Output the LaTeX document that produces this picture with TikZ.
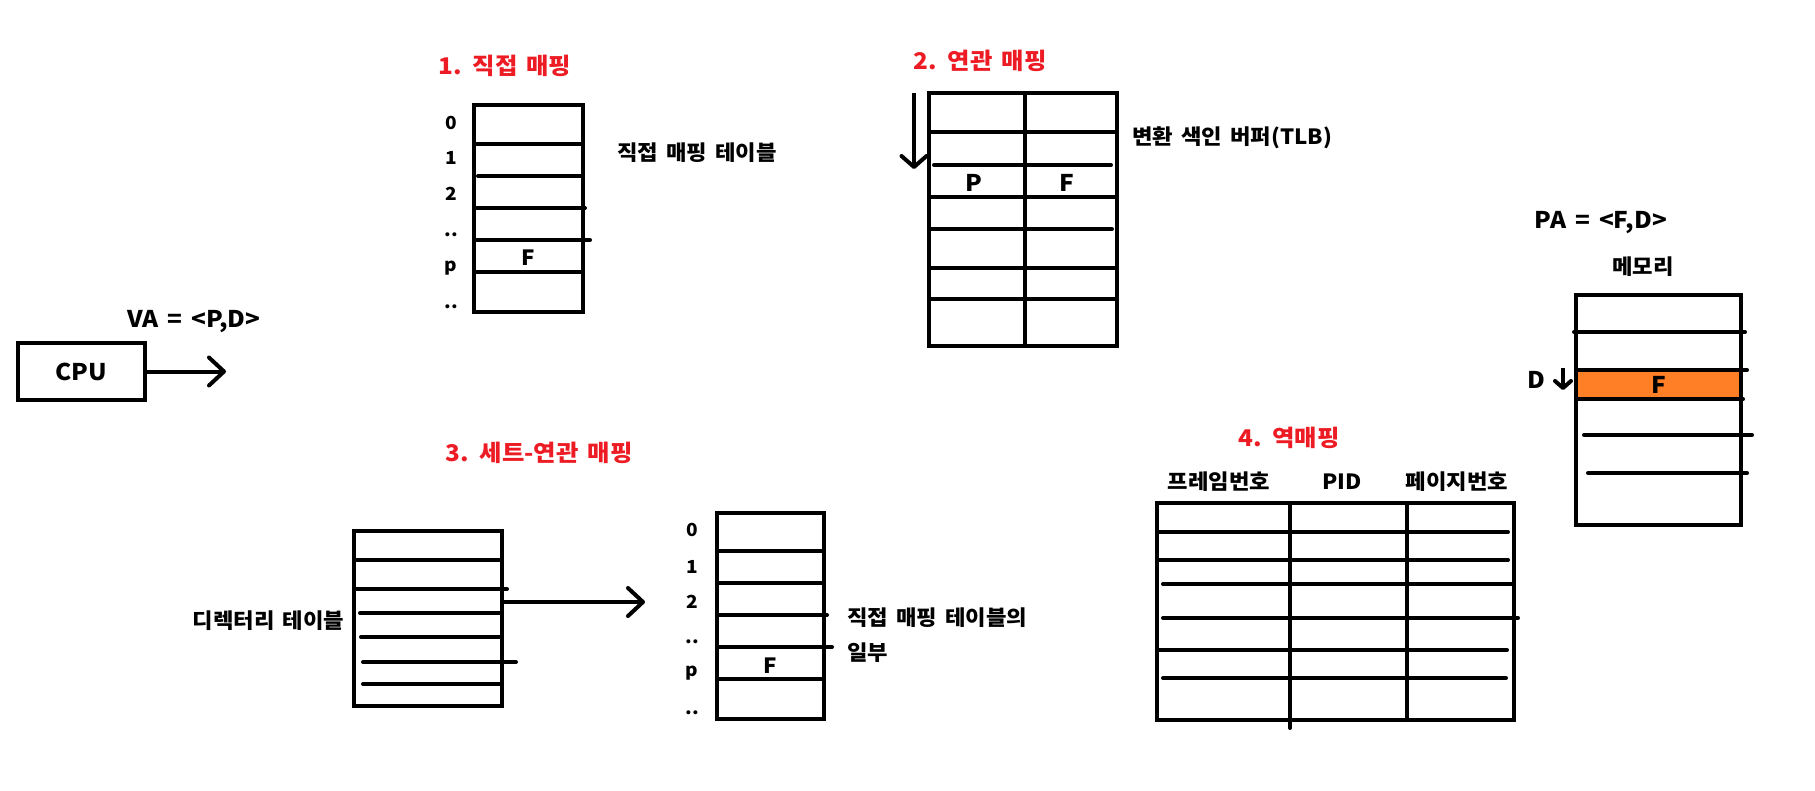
\documentclass[tikz,border=0pt]{standalone}
\usepackage{fontspec}
\setmainfont{Noto Sans CJK KR}[FakeStretch=1.06, WordSpace=1.6]
\usepackage{xcolor}
\usepackage{tikz}
\usetikzlibrary{arrows.meta}

\definecolor{paintred}{RGB}{237,28,36}
\definecolor{paintorange}{RGB}{255,127,39}

\tikzset{
  box/.style={draw, line width=4pt, inner sep=0pt},
  row/.style={line width=4pt, line cap=round},
  arr/.style={line width=4pt, -{Straight Barb[length=15pt,width=28pt,round]}},
  ttl/.style={text=paintred, font=\fontsize{23}{28}\selectfont\bfseries},
  lbl/.style={font=\fontsize{21}{25}\selectfont\bfseries},
  big/.style={font=\fontsize{23}{28}\selectfont\bfseries},
  idx/.style={font=\fontsize{18}{22}\selectfont\bfseries}
}

\begin{document}
\begin{tikzpicture}[x=1pt, y=-1pt]
            \useasboundingbox (0,0) rectangle (1815,790);

            % CPU
            \node[box, minimum width=127pt, minimum height=57pt, big] (cpu) at (81.5,371.5) {CPU};
            \node[big] (va) at (194,322) {VA = <P,D>};
            \coordinate (vatip) at (226,371.5);
            \draw[arr] (cpu.east) -- (vatip); % cpu-va

            % 1. direct mapping
            \node[ttl] (t1) at (505,66) {1. 직접 매핑};
            \node[box, minimum width=109pt, minimum height=207pt] (dmt) at (528.5,208.5) {};
            \draw[row] (474,144) -- (583,144); % row 0
            \draw[row] (478,176) -- (583,176); % row 1
            \draw[row] (474,208) -- (585,208); % row 2
            \draw[row] (474,240) -- (590,240); % row ..
            \draw[row] (474,272) -- (583,272); % row p
            \node[idx] (d0) at (451,123) {0};
            \node[idx] (d1) at (451,158) {1};
            \node[idx] (d2) at (451,194) {2};
            \node[idx] (d3) at (451,235) {..};
            \node[idx] (dp) at (451,268) {p};
            \node[idx] (d4) at (451,307) {..};
            \node[lbl] (df) at (528,258) {F};
            \node[lbl] (dlbl) at (697,153) {직접 매핑 테이블};

            % 2. associative mapping
            \node[ttl] (t2) at (980,61) {2. 연관 매핑};
            \node[box, minimum width=188pt, minimum height=253pt] (tlb) at (1023,219.5) {};
            \draw[row] (1025,93) -- (1025,346); % column
            \draw[row] (929,132) -- (1117,132);
            \draw[row] (934,165) -- (1111,165);
            \draw[row] (929,197) -- (1117,197);
            \draw[row] (929,229) -- (1112,229);
            \draw[row] (929,268) -- (1117,268);
            \draw[row] (929,299) -- (1117,299);
            \node[big] (tp) at (974,183) {P};
            \node[big] (tf) at (1067,183) {F};
            \coordinate (tlbtop) at (914,93);
            \coordinate (tlbtip) at (914,169);
            \draw[line width=4pt, -{Straight Barb[length=11pt,width=25pt,round]}] (tlbtop) -- (tlbtip); % search
            \node[lbl] (tlbl) at (1232,138) {변환 색인 버퍼(TLB)};

            % memory
            \node[big] (pa) at (1601,223) {PA = <F,D>};
            \node[lbl] (meml) at (1643,267) {메모리};
            \fill[paintorange] (1576,370) rectangle (1741,399); % frame F
            \node[box, minimum width=165pt, minimum height=230pt] (mem) at (1658.5,410) {};
            \draw[row] (1574,332) -- (1745,332);
            \draw[row] (1576,370) -- (1747,370);
            \draw[row] (1576,399) -- (1743,399);
            \draw[row] (1584,435) -- (1752,435);
            \draw[row] (1588,473) -- (1747,473);
            \node[big] (mf) at (1659,385) {F};
            \node[big] (md) at (1536,380) {D};
            \coordinate (dtop) at (1563,368);
            \coordinate (dtip) at (1563,390);
            \draw[line width=4pt, -{Straight Barb[length=7pt,width=16pt,round]}] (dtop) -- (dtip); % offset

            % 3. set-associative mapping
            \node[ttl] (t3) at (539,453) {3. 세트-연관 매핑};
            \node[box, minimum width=148pt, minimum height=175pt] (dir) at (428,618.5) {};
            \draw[row] (354,560) -- (502,560);
            \draw[row] (354,589) -- (507,589);
            \draw[row] (360,613) -- (502,613);
            \draw[row] (361,637) -- (502,637);
            \draw[row] (363,662) -- (516,662);
            \draw[row] (363,684) -- (502,684);
            \node[lbl] (dirl) at (268.5,621) {디렉터리 테이블};
            \coordinate (dirtip) at (645,602);
            \draw[arr] ([yshift=16.5pt]dir.east) -- (dirtip); % dir-part

            \node[box, minimum width=107pt, minimum height=206pt] (part) at (770.5,616) {};
            \draw[row] (717,551) -- (824,551);
            \draw[row] (719,583) -- (824,583);
            \draw[row] (717,615) -- (827,615);
            \draw[row] (717,647) -- (832,647);
            \draw[row] (717,679) -- (824,679);
            \node[idx] (p0) at (692,530) {0};
            \node[idx] (p1) at (692,567) {1};
            \node[idx] (p2) at (692,602) {2};
            \node[idx] (p3) at (692,642) {..};
            \node[idx] (pp) at (692,673) {p};
            \node[idx] (p4) at (692,713) {..};
            \node[lbl] (pf) at (770,666) {F};
            \node[lbl, anchor=west, inner sep=0pt] (pl1) at (847,618) {직접 매핑 테이블의};
            \node[lbl, anchor=west, inner sep=0pt] (pl2) at (847,653) {일부};

            % 4. inverted mapping
            \node[ttl] (t4) at (1289,438) {4. 역매핑};
            \node[lbl] (hfn) at (1219,482) {프레임번호};
            \node[lbl] (hpid) at (1342,482) {PID};
            \node[lbl] (hpn) at (1457,482) {페이지번호};
            \node[box, minimum width=357pt, minimum height=217pt] (inv) at (1335.5,611.5) {};
            \draw[row] (1290,503) -- (1290,728); % column 1
            \draw[row] (1407,503) -- (1407,720); % column 2
            \draw[row] (1157,532) -- (1508,532);
            \draw[row] (1157,560) -- (1508,560);
            \draw[row] (1163,584) -- (1514,584);
            \draw[row] (1163,618) -- (1518,618);
            \draw[row] (1157,650) -- (1507,650);
            \draw[row] (1163,678) -- (1506,678);
        \end{tikzpicture}
\end{document}
